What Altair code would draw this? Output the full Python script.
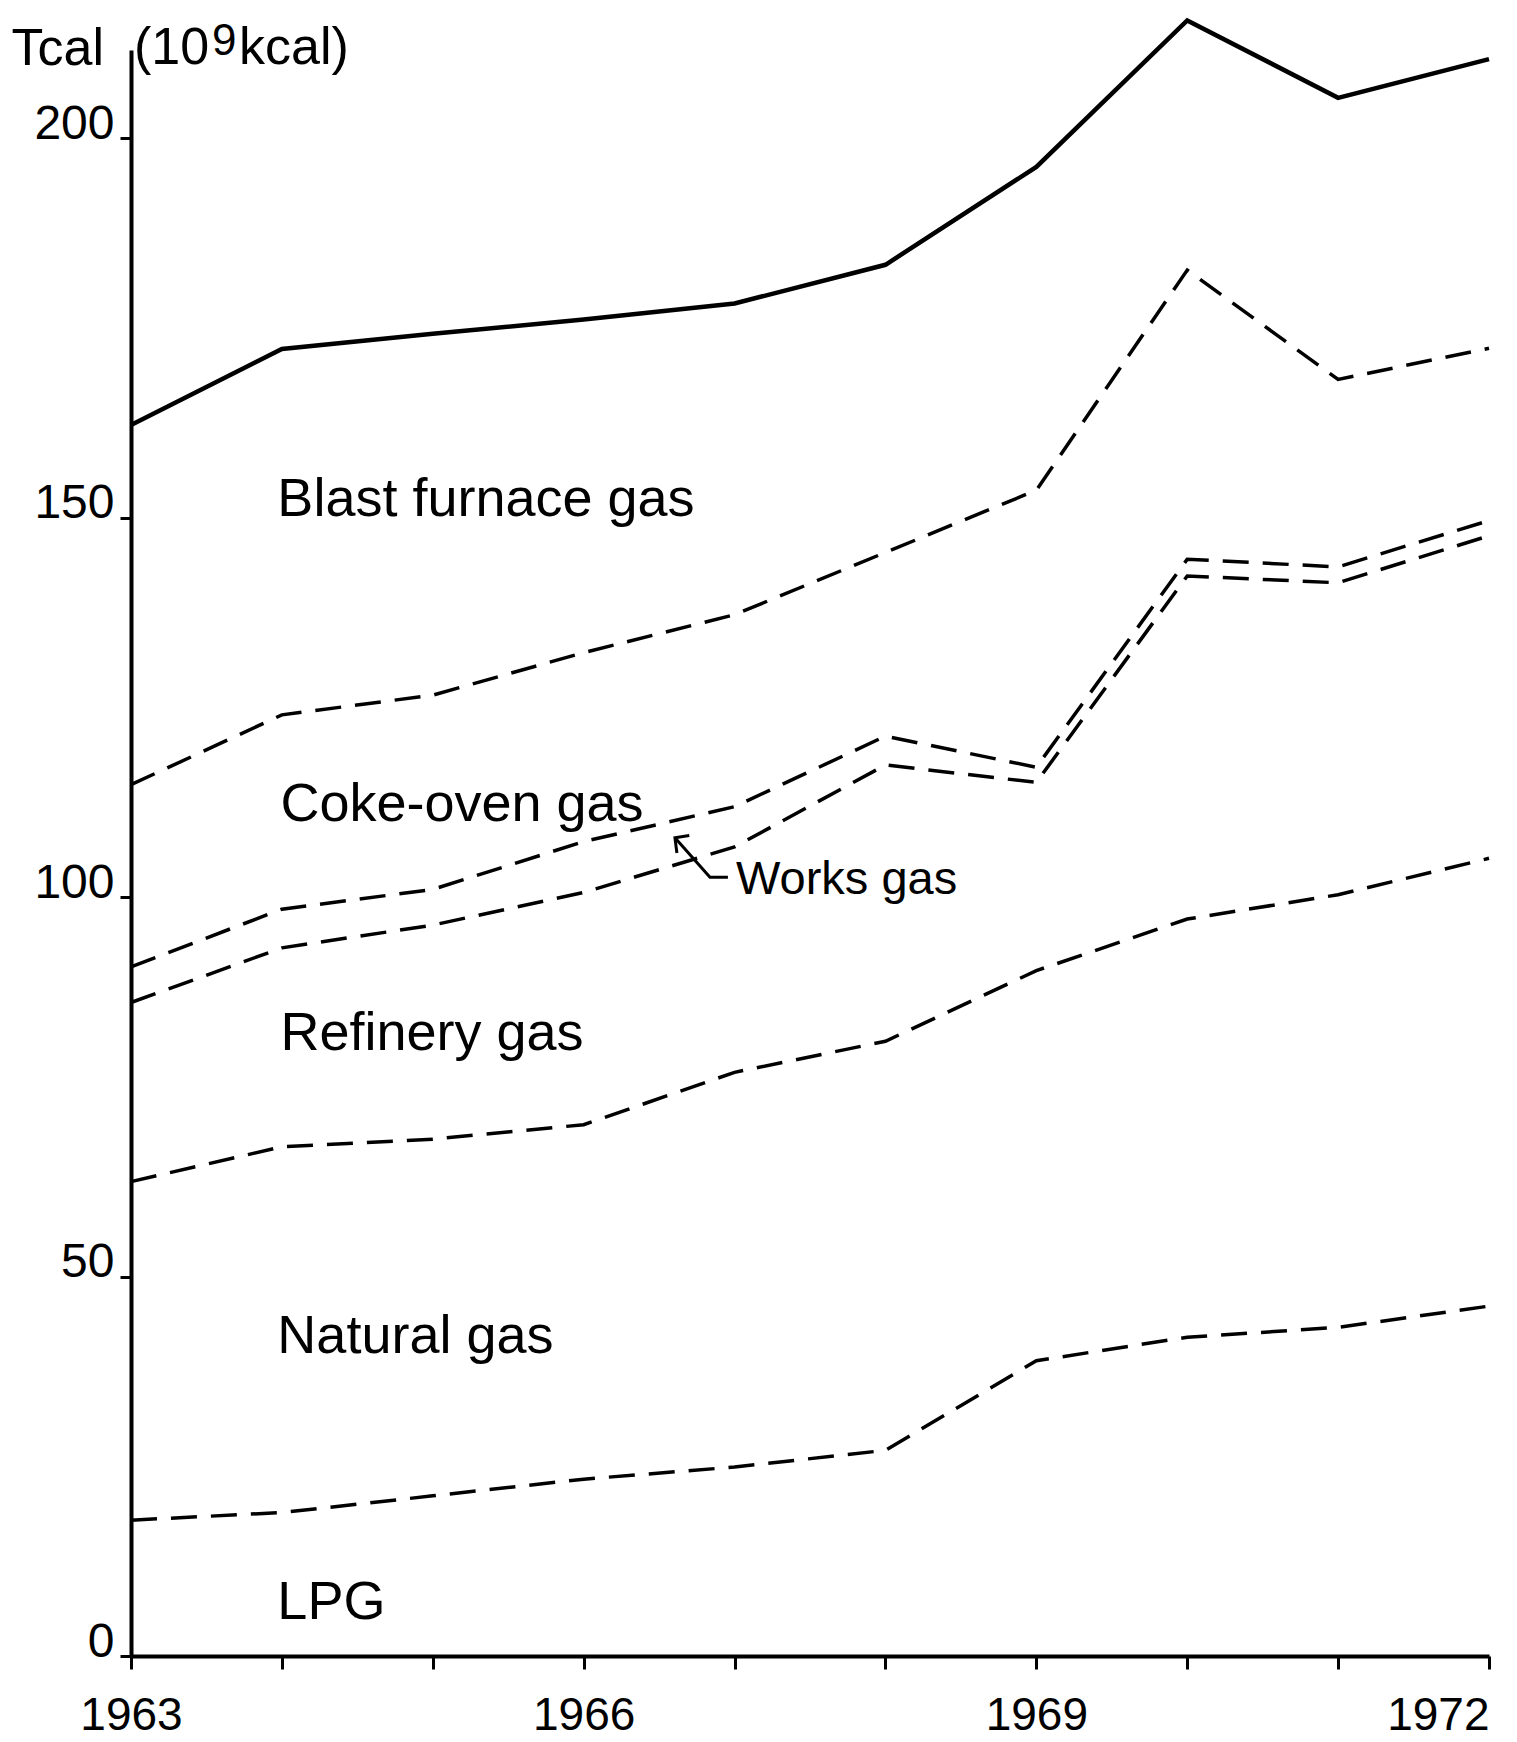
import altair as alt
import pandas as pd

years = [1963, 1964, 1965, 1966, 1967, 1968, 1969, 1970, 1971, 1972]
blast_furnace = [162.2, 172.2, 174.2, 176.1, 178.2, 183.3, 196.2, 215.5, 205.3, 210.4]
coke_oven = [114.8, 124.0, 126.6, 132.2, 137.2, 145.4, 153.6, 182.6, 168.2, 172.3]
works_upper = [90.8, 98.4, 101.0, 107.3, 111.9, 121.2, 117.1, 144.5, 143.5, 149.6]
works_lower = [86.1, 93.3, 96.3, 100.6, 106.6, 117.4, 115.1, 142.3, 141.4, 147.6]
refinery = [62.5, 67.1, 68.1, 70.0, 76.9, 81.0, 90.3, 97.1, 100.3, 105.1]
natural = [17.9, 18.9, 21.1, 23.3, 24.9, 27.1, 38.9, 42.0, 43.3, 46.1]

label_text = ["Blast furnace gas", "Coke-oven gas", "Refinery gas", "Natural gas", "LPG"]
label_year = [1963.97, 1963.99, 1963.99, 1963.97, 1963.97]
label_value = [152.3, 112.1, 81.9, 42.0, 7.0]

works_text = ["Works gas"]
works_year = [1967.01]
works_value = [102.2]

# unit part of the y-axis title, drawn right of the axis line
unit_year = [1963]
unit_value = [209.8]

# arrow pointing from "Works gas" label to the works gas band
arrow_part = ["shaft", "shaft", "shaft", "head", "head", "head"]
arrow_order = [0, 1, 2, 0, 1, 2]
arrow_year = [1966.605, 1966.837, 1966.956, 1966.70, 1966.605, 1966.618]
arrow_value = [107.8, 102.6, 102.6, 108.1, 107.8, 105.8]

solid_series = {"Blast furnace gas": blast_furnace}
dashed_series = {
    "Coke-oven gas": coke_oven,
    "Works gas upper": works_upper,
    "Works gas lower": works_lower,
    "Refinery gas": refinery,
    "Natural gas": natural,
}

def long_df(series):
    rows = []
    for name, vals in series.items():
        for y, v in zip(years, vals):
            rows.append({"series": name, "year": y, "value": v})
    return pd.DataFrame(rows)

solid_df = long_df(solid_series)
dashed_df = long_df(dashed_series)
labels_df = pd.DataFrame({"text": label_text, "year": label_year, "value": label_value})
works_df = pd.DataFrame({"text": works_text, "year": works_year, "value": works_value})
unit_df = pd.DataFrame({"year": unit_year, "value": unit_value})
arrow_df = pd.DataFrame({"part": arrow_part, "ord": arrow_order, "year": arrow_year, "value": arrow_value})

FONT = "Liberation Sans"

x_enc = alt.X(
    "year:Q",
    scale=alt.Scale(domain=[1963, 1972], nice=False, zero=False),
    axis=alt.Axis(
        values=years,
        format="d",
        labelExpr="(datum.value - 1963) % 3 == 0 ? datum.label : ''",
        labelAlign={"condition": {"test": "datum.value == 1972", "value": "right"}, "value": "center"},
        labelFlush=False,
        labelOverlap=False,
        labelFont=FONT,
        labelFontSize=46,
        labelBaseline="alphabetic",
        labelPadding=60,
        tickSize=13,
        title=None,
    ),
)
y_enc = alt.Y(
    "value:Q",
    scale=alt.Scale(domain=[0, 211.6], nice=False, zero=True),
    axis=alt.Axis(
        values=[0, 50, 100, 150, 200],
        labelFont=FONT,
        labelFontSize=48,
        labelBaseline="alphabetic",
        labelPadding=6,
        tickSize=11,
        title="Tcal",
        titleAngle=0,
        titleX=-120,
        titleY=14,
        titleAlign="left",
        titleBaseline="alphabetic",
        titleFont=FONT,
        titleFontSize=52,
        titleFontWeight="normal",
        titleColor="black",
    ),
)

solid = alt.Chart(solid_df).mark_line(color="black", strokeWidth=4.5).encode(
    x=x_enc, y=y_enc, detail="series:N"
)
dashed = alt.Chart(dashed_df).mark_line(
    color="black", strokeWidth=3.5, strokeDash=[26, 14], strokeCap="butt"
).encode(x="year:Q", y="value:Q", detail="series:N")

labels = alt.Chart(labels_df).mark_text(
    align="left", baseline="middle", font=FONT, fontSize=54, color="black"
).encode(x="year:Q", y="value:Q", text="text:N")

works = alt.Chart(works_df).mark_text(
    align="left", baseline="middle", font=FONT, fontSize=47, color="black"
).encode(x="year:Q", y="value:Q", text="text:N")

unit_base = alt.Chart(unit_df).encode(x="year:Q", y="value:Q")
unit_a = unit_base.mark_text(
    align="left", baseline="alphabetic", font=FONT, fontSize=52, color="black", dx=3, text="(10"
)
unit_b = unit_base.mark_text(
    align="left", baseline="alphabetic", font=FONT, fontSize=44, color="black", dx=81, dy=-9, text="9"
)
unit_c = unit_base.mark_text(
    align="left", baseline="alphabetic", font=FONT, fontSize=52, color="black", dx=108, text="kcal)"
)

arrow = alt.Chart(arrow_df).mark_line(color="black", strokeWidth=3).encode(
    x="year:Q", y="value:Q", detail="part:N", order="ord:Q"
)

chart = (
    alt.layer(solid, dashed, labels, works, unit_a, unit_b, unit_c, arrow)
    .properties(
        width=1358,
        height=1606,
        autosize=alt.AutoSizeParams(type="none"),
        padding={"left": 123, "top": 42, "right": 20, "bottom": 86},
        background="white",
    )
    .configure_view(stroke=None)
    .configure_axis(
        grid=False,
        domainColor="black",
        domainWidth=4,
        tickColor="black",
        tickWidth=3,
        labelColor="black",
    )
)

chart.save("out.html", embed_options={"renderer": "svg", "actions": False})
